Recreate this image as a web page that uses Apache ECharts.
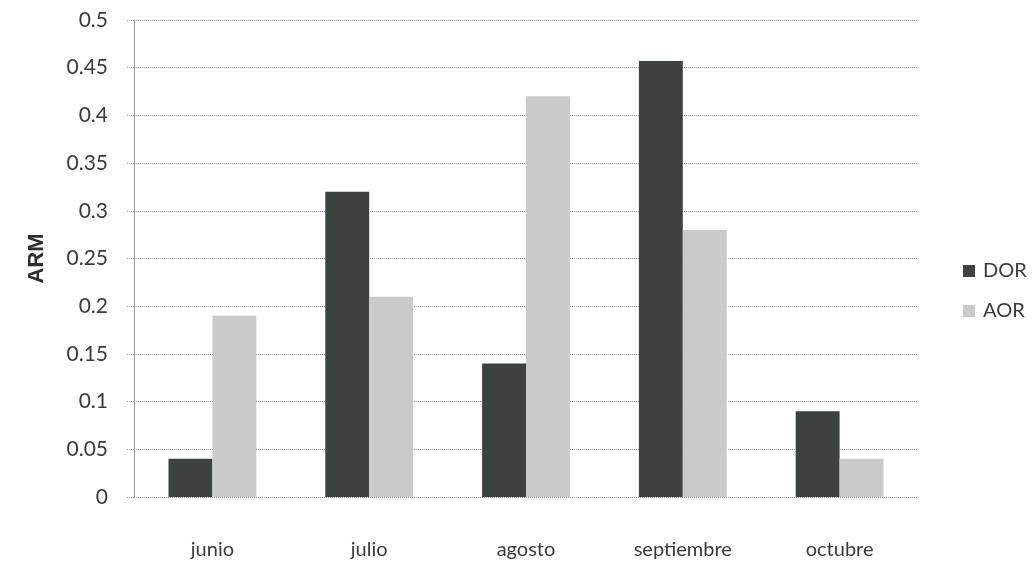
<!DOCTYPE html>
<html>
<head>
<meta charset="utf-8">
<script src="https://cdn.jsdelivr.net/npm/echarts@6/dist/echarts.min.js"></script>
<style>
  html, body { margin: 0; padding: 0; background: #ffffff; }
  #chart { width: 1036px; height: 565px; }
</style>
</head>
<body>
<div id="chart"></div>
<script>
// Monthly ARM values for the two groups
const months = ['junio', 'julio', 'agosto', 'septiembre', 'octubre'];
const dorValues = [0.04, 0.32, 0.14, 0.457, 0.09];
const aorValues = [0.19, 0.21, 0.42, 0.28, 0.04];
const yTickLabels = ['0', '0.05', '0.1', '0.15', '0.2', '0.25', '0.3', '0.35', '0.4', '0.45', '0.5'];

const fontFamily = 'Lato, "Open Sans", sans-serif';

const chart = echarts.init(document.getElementById('chart'));
chart.setOption({
  backgroundColor: '#ffffff',
  animation: false,
  grid: { left: 134, right: 118, top: 20, bottom: 68, containLabel: false },
  legend: {
    orient: 'vertical',
    left: 958,
    top: 256,
    itemWidth: 12,
    itemHeight: 12,
    itemGap: 20,
    icon: 'rect',
    textStyle: { fontFamily, fontSize: 20, color: '#3a3a3a', padding: [0, 0, 0, 3] },
    data: ['DOR', 'AOR']
  },
  xAxis: {
    type: 'category',
    data: months,
    axisLine: { show: false },
    axisTick: { show: false },
    axisLabel: { fontFamily, fontSize: 20, color: '#3a3a3a', margin: 43 }
  },
  yAxis: {
    type: 'value',
    min: 0,
    max: 0.5,
    interval: 0.05,
    name: 'ARM',
    nameLocation: 'middle',
    nameGap: 86,
    nameRotate: 90,
    nameTextStyle: { fontFamily: 'Liberation Sans, Arial, sans-serif', fontSize: 22, fontWeight: 'bold', color: '#2e2e2e' },
    axisLine: { show: true, lineStyle: { color: '#9a9a9a', width: 1 } },
    axisTick: { show: true, length: 7, lineStyle: { color: '#9a9a9a', type: 'dotted' } },
    axisLabel: {
      fontFamily, fontSize: 21, color: '#3a3a3a', margin: 26,
      formatter: (v) => yTickLabels[Math.round(v / 0.05)]
    },
    splitLine: { show: true, lineStyle: { color: '#8f8f8f', type: 'dotted', width: 1 } }
  },
  series: [
    {
      name: 'DOR',
      type: 'bar',
      data: dorValues,
      barGap: '0%',
      barCategoryGap: '44%',
      itemStyle: { color: '#3d423e' }
    },
    {
      name: 'AOR',
      type: 'bar',
      data: aorValues,
      barGap: '0%',
      barCategoryGap: '44%',
      itemStyle: { color: '#cacaca' }
    }
  ]
});
</script>
</body>
</html>
